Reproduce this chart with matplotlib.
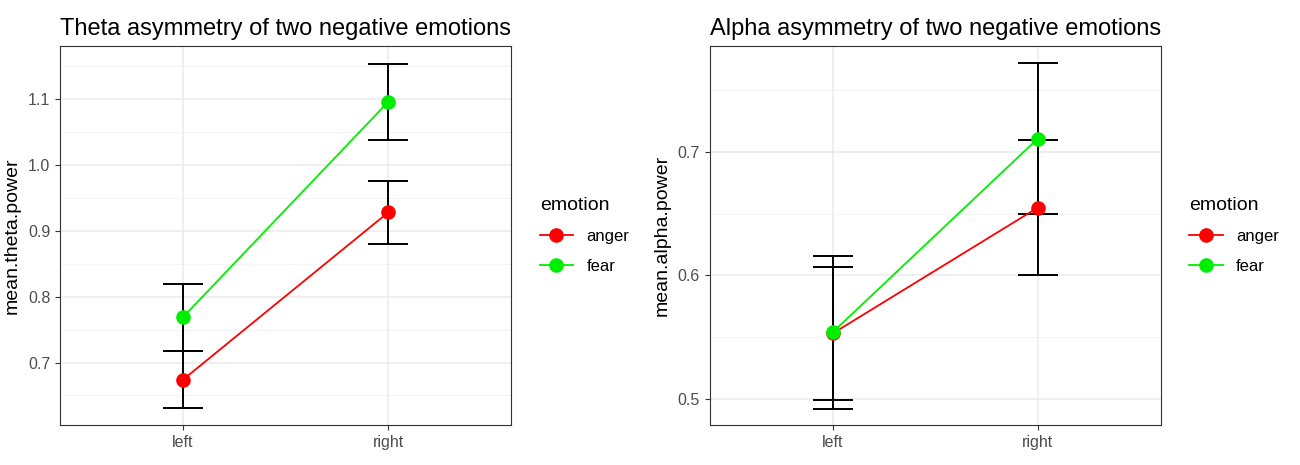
import numpy as np
from matplotlib import pyplot as plt
from matplotlib.lines import Line2D
from matplotlib.ticker import MultipleLocator

plt.rcParams['font.family'] = ['Liberation Sans', 'DejaVu Sans']

sides = ["left", "right"]
emotions = ["anger", "fear"]
colors = {"anger": "#FF0000", "fear": "#00EE00"}

# theta panel
theta_mean = {"anger": [0.674, 0.928], "fear": [0.769, 1.096]}
theta_err = {"anger": [0.043, 0.048], "fear": [0.051, 0.058]}
# alpha panel
alpha_mean = {"anger": [0.553, 0.655], "fear": [0.554, 0.711]}
alpha_err = {"anger": [0.054, 0.055], "fear": [0.062, 0.061]}

panels = [
    ("Theta asymmetry of two negative emotions", "mean.theta.power",
     theta_mean, theta_err, (0.605, 1.181), [0.0462, 0.086, 0.347, 0.815]),
    ("Alpha asymmetry of two negative emotions", "mean.alpha.power",
     alpha_mean, alpha_err, (0.4787, 0.786), [0.546, 0.086, 0.347, 0.815]),
]

fig = plt.figure(figsize=(13, 4.65), dpi=100)
x = np.arange(len(sides)) + 1

for title, ylab, means, errs, ylim, pos in panels:
    ax = fig.add_axes(pos)
    for emo in emotions:
        ax.errorbar(x, means[emo], yerr=errs[emo], fmt="none", ecolor="black",
                    elinewidth=1.4, capsize=14.5, capthick=1.4, zorder=3)
    for emo in emotions:
        ax.plot(x, means[emo], color=colors[emo], lw=1.3, zorder=4)
        ax.plot(x, means[emo], "o", color=colors[emo], ms=9.5, zorder=5)
    ax.set_xlim(0.4, 2.6)
    ax.set_ylim(*ylim)
    ax.set_xticks(x)
    ax.set_xticklabels(sides)
    ax.yaxis.set_major_locator(MultipleLocator(0.1))
    ax.yaxis.set_minor_locator(MultipleLocator(0.05))
    ax.grid(which="major", color="#EBEBEB", lw=1.1, zorder=0)
    ax.grid(which="minor", axis="y", color="#F2F2F2", lw=0.6, zorder=0)
    ax.set_axisbelow(True)
    ax.tick_params(which="major", length=3.5, color="#333333", labelsize=11.5,
                   labelcolor="#4D4D4D", width=0.8)
    ax.tick_params(which="minor", length=0)
    for s in ax.spines.values():
        s.set_color("#333333")
        s.set_linewidth(0.8)
    ax.set_ylabel(ylab, fontsize=14, labelpad=5)
    ax.set_title(title, loc="left", fontsize=17, pad=8)

    handles = [Line2D([], [], color=colors[e], marker="o", ms=9.5, lw=1.3) for e in emotions]
    leg = ax.legend(handles, emotions, title="emotion", loc="center left",
                    bbox_to_anchor=(1.03, 0.5), frameon=False, fontsize=12,
                    title_fontsize=14, handlelength=2.0, labelspacing=0.9)
    leg._legend_box.align = "left"

plt.savefig("out.png", dpi=100)
